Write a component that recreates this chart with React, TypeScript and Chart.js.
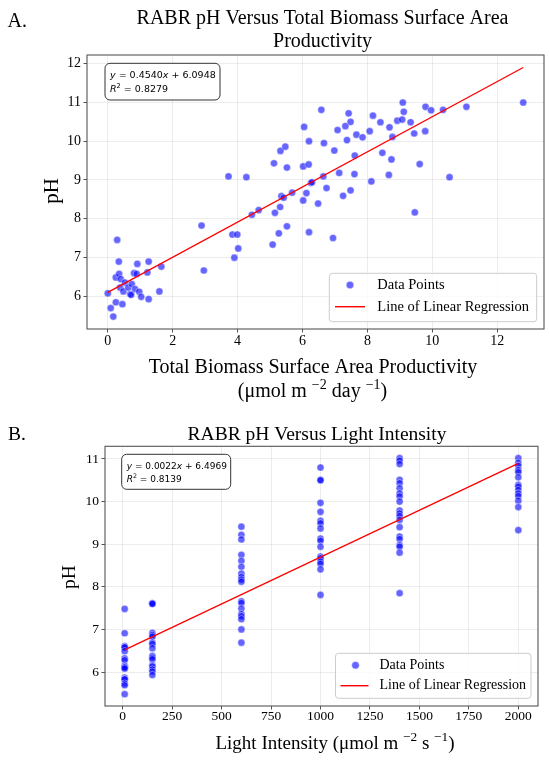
import React, { useEffect, useRef } from "react";
import { Chart, registerables } from "chart.js";

Chart.register(...registerables);

// ---------------- Panel A data: pH vs total biomass surface area productivity ----------------
const PRODUCTIVITY = [
  0, 0.09, 0.17, 0.25, 0.29, 0.25, 0.34, 0.35, 0.4, 0.45, 0.38, 0.48, 0.53, 0.63, 0.69, 0.72, 0.74,
  0.81, 0.84, 0.91, 0.89, 0.97, 1.03, 1.22, 1.26, 1.26, 1.59, 1.65, 2.89, 2.96, 3.72, 3.84, 3.9,
  3.99, 4.02, 4.27, 4.44, 4.65, 5.08, 5.12, 5.15, 5.27, 5.31, 5.32, 5.35, 5.42, 5.47, 5.52, 5.52,
  5.68, 6.05, 6.02, 6.19, 6.2, 6.12, 6.02, 6.2, 6.26, 6.29, 6.48, 6.58, 6.64, 6.66, 6.74, 6.94,
  6.98, 7.08, 7.13, 7.25, 7.32, 7.37, 7.42, 7.48, 7.48, 7.6, 7.61, 7.66, 7.85, 8.07, 8.12, 8.17,
  8.4, 8.46, 8.66, 8.68, 8.74, 8.77, 8.92, 9.07, 9.09, 9.12, 9.33, 9.44, 9.46, 9.61, 9.78, 9.79,
  9.96, 10.33, 10.53, 11.05, 12.8,
];
const PH_A = [
  6.07, 5.69, 5.47, 5.84, 7.45, 6.48, 6.89, 6.57, 6.44, 5.79, 6.22, 6.12, 6.35, 6.22, 6.05, 6.03, 6.31,
  6.59, 6.18, 6.83, 6.57, 6.11, 5.98, 6.61, 6.89, 5.92, 6.12, 6.76, 7.82, 6.66, 9.09, 7.59, 6.99,
  7.59, 7.23, 9.07, 8.1, 8.22, 7.33, 9.43, 8.15, 7.62, 8.3, 9.75, 8.58, 8.54, 9.86, 9.32, 7.8,
  8.67, 10.37, 9.35, 9.4, 10.0, 8.66, 8.47, 7.65, 8.92, 8.94, 8.39, 10.81, 9.09, 9.95, 8.79, 7.5,
  9.76, 10.29, 9.18, 8.59, 10.39, 10.03, 10.72, 10.5, 8.73, 9.15, 9.63, 10.17, 10.1, 10.26, 8.96, 10.66,
  10.49, 9.7, 9.13, 10.36, 9.53, 10.11, 10.53, 10.56, 11.0, 10.76, 10.49, 10.2, 8.16, 9.41, 10.26, 10.89,
  10.8, 10.81, 9.07, 10.89, 11.0,
];
const X_TICKS_A = [0, 2, 4, 6, 8, 10, 12];
const Y_TICKS_A = [6, 7, 8, 9, 10, 11, 12];
const SLOPE_A = 0.454;
const INTERCEPT_A = 6.0948;
const R2_A = 0.8279;

// ---------------- Panel B data: pH vs light intensity ----------------
const LIGHT_LEVELS = [10, 150, 600, 1000, 1400, 2000];
const PH_LIGHT_10 = [7.48, 6.91, 6.61, 6.58, 6.58, 6.49, 6.32, 6.28, 6.15, 6.11, 6.11, 6.08, 5.87, 5.83, 5.83, 5.73, 5.69, 5.48];
const PH_LIGHT_150 = [7.61, 7.61, 7.6, 6.92, 6.87, 6.83, 6.69, 6.66, 6.56, 6.38, 6.34, 6.3, 6.16, 6.13, 6.06, 6.01, 5.93];
const PH_LIGHT_600 = [9.41, 9.22, 9.11, 8.75, 8.61, 8.47, 8.31, 8.23, 8.17, 8.12, 7.66, 7.62, 7.49, 7.36, 7.31, 7.24, 7.0, 6.69];
const PH_LIGHT_1000 = [10.8, 10.51, 10.5, 9.97, 9.76, 9.55, 9.49, 9.37, 9.13, 9.08, 8.94, 8.71, 8.67, 8.59, 8.54, 8.41, 7.81];
const PH_LIGHT_1400 = [11.02, 10.96, 10.88, 10.51, 10.43, 10.31, 10.19, 10.12, 10.0, 9.79, 9.72, 9.66, 9.57, 9.4, 9.18, 9.12, 8.98, 8.94, 8.8, 7.85];
const PH_LIGHT_2000 = [11.02, 10.91, 10.84, 10.74, 10.69, 10.57, 10.39, 10.35, 10.27, 10.19, 10.13, 10.02, 9.87, 9.33];
const PH_BY_LIGHT = [PH_LIGHT_10, PH_LIGHT_150, PH_LIGHT_600, PH_LIGHT_1000, PH_LIGHT_1400, PH_LIGHT_2000];
const X_TICKS_B = [0, 250, 500, 750, 1000, 1250, 1500, 1750, 2000];
const Y_TICKS_B = [6, 7, 8, 9, 10, 11];
const SLOPE_B = 0.0022;
const INTERCEPT_B = 6.4969;
const R2_B = 0.8139;

// ---------------- styling ----------------
const SERIF = '"Liberation Serif", "Times New Roman", serif';
const SANS = '"DejaVu Sans", sans-serif';
const POINT_FILL = "rgba(0,0,255,0.6)";
const POINT_EDGE = "rgba(255,255,255,0.7)";
const AXIS = "#555555";
const GRID = "rgba(176,176,176,0.3)";

type Seg = { t: string; sup?: boolean; it?: boolean };
type TextSpec = { segs: Seg[]; x: number; y: number; size: number; align: "left" | "center"; rot?: boolean };

function drawSegs(ctx: CanvasRenderingContext2D, segs: Seg[], x: number, y: number, size: number, family: string, align: string) {
  const fontFor = (s: Seg) => `${s.it ? "italic " : ""}${s.sup ? size * 0.7 : size}px ${family}`;
  let w = 0;
  for (const s of segs) {
    ctx.font = fontFor(s);
    w += ctx.measureText(s.t).width;
  }
  let cx = align === "center" ? x - w / 2 : x;
  ctx.textAlign = "left";
  for (const s of segs) {
    ctx.font = fontFor(s);
    ctx.fillText(s.t, cx, s.sup ? y - size * 0.4 : y);
    cx += ctx.measureText(s.t).width;
  }
}

function rrect(ctx: CanvasRenderingContext2D, x: number, y: number, w: number, h: number, r: number) {
  ctx.beginPath();
  ctx.moveTo(x + r, y);
  ctx.lineTo(x + w - r, y);
  ctx.arcTo(x + w, y, x + w, y + r, r);
  ctx.lineTo(x + w, y + h - r);
  ctx.arcTo(x + w, y + h, x + w - r, y + h, r);
  ctx.lineTo(x + r, y + h);
  ctx.arcTo(x, y + h, x, y + h - r, r);
  ctx.lineTo(x, y + r);
  ctx.arcTo(x, y, x + r, y, r);
  ctx.closePath();
}

function paddedRange(values: number[]) {
  const lo = Math.min(...values);
  const hi = Math.max(...values);
  const m = (hi - lo) * 0.05;
  return [lo - m, hi + m];
}

function buildConfig(p: any) {
  const pts = p.xs.map((x: number, i: number) => ({ x, y: p.ys[i] }));
  const x0 = Math.min(...p.xs);
  const x1 = Math.max(...p.xs);
  const linePts = [
    { x: x0, y: p.slope * x0 + p.intercept },
    { x: x1, y: p.slope * x1 + p.intercept },
  ];
  const [xmin, xmax] = paddedRange(p.xs);
  const [ymin, ymax] = paddedRange([...p.ys, linePts[0].y, linePts[1].y]);

  const decor = {
    id: "decor",
    afterDraw(chart: any) {
      const ctx: CanvasRenderingContext2D = chart.ctx;
      const a = chart.chartArea;
      ctx.save();
      // frame (all four spines)
      ctx.strokeStyle = AXIS;
      ctx.lineWidth = 1.1;
      ctx.strokeRect(a.left, a.top, a.right - a.left, a.bottom - a.top);

      // equation box
      const b = p.box;
      const bx = a.left + b.dx;
      const by = a.top + b.dy;
      rrect(ctx, bx, by, b.w, b.h, 5);
      ctx.fillStyle = "#ffffff";
      ctx.fill();
      ctx.strokeStyle = "#333333";
      ctx.lineWidth = 1;
      ctx.stroke();
      ctx.fillStyle = "#000000";
      ctx.textBaseline = "alphabetic";
      const eq: Seg[] = [
        { t: "y", it: true },
        { t: " = " + p.slope.toFixed(4) },
        { t: "x", it: true },
        { t: " + " + p.intercept.toFixed(4) },
      ];
      const r2: Seg[] = [{ t: "R", it: true }, { t: "2", sup: true }, { t: " = " + p.r2.toFixed(4) }];
      drawSegs(ctx, eq, bx + b.tx, by + b.ty1, b.font, SANS, "left");
      drawSegs(ctx, r2, bx + b.tx, by + b.ty2, b.font, SANS, "left");

      // legend
      const L = p.leg;
      const lx = a.right - L.dr - L.w;
      const ly = a.bottom - L.db - L.h;
      rrect(ctx, lx, ly, L.w, L.h, 3);
      ctx.fillStyle = "rgba(255,255,255,0.8)";
      ctx.fill();
      ctx.strokeStyle = "#cccccc";
      ctx.lineWidth = 1;
      ctx.stroke();
      ctx.beginPath();
      ctx.arc(lx + L.mx, ly + L.my, 3.8, 0, Math.PI * 2);
      ctx.fillStyle = POINT_FILL;
      ctx.fill();
      ctx.strokeStyle = POINT_EDGE;
      ctx.lineWidth = 0.6;
      ctx.stroke();
      ctx.beginPath();
      ctx.moveTo(lx + L.l0, ly + L.ly);
      ctx.lineTo(lx + L.l1, ly + L.ly);
      ctx.strokeStyle = "#ff0000";
      ctx.lineWidth = 1.4;
      ctx.stroke();
      ctx.fillStyle = "#000000";
      ctx.font = `${L.font}px ${SERIF}`;
      ctx.textAlign = "left";
      ctx.textBaseline = "middle";
      ctx.fillText("Data Points", lx + L.tx, ly + L.my);
      ctx.fillText("Line of Linear Regression", lx + L.tx, ly + L.ly);

      // titles and axis labels
      ctx.textBaseline = "alphabetic";
      ctx.fillStyle = "#000000";
      for (const t of p.texts as TextSpec[]) {
        if (t.rot) {
          ctx.save();
          ctx.translate(t.x, t.y);
          ctx.rotate(-Math.PI / 2);
          drawSegs(ctx, t.segs, 0, 0, t.size, SERIF, "center");
          ctx.restore();
        } else {
          drawSegs(ctx, t.segs, t.x, t.y, t.size, SERIF, t.align);
        }
      }
      ctx.restore();
    },
  };

  const axisCommon = (ticks: number[], size: number, pad: number) => ({
    type: "linear",
    afterBuildTicks: (s: any) => {
      s.ticks = ticks.map((v) => ({ value: v }));
    },
    border: { display: false },
    grid: { color: GRID, lineWidth: 0.8, tickColor: AXIS, tickLength: 3.5, tickWidth: 1, drawTicks: true },
    ticks: {
      font: { family: SERIF, size },
      color: "#000000",
      padding: pad,
      autoSkip: false,
      maxRotation: 0,
      callback: (v: any) => String(v),
    },
  });

  return {
    type: "scatter",
    data: {
      datasets: [
        {
          data: linePts,
          showLine: true,
          borderColor: "#ff0000",
          borderWidth: 1.3,
          pointRadius: 0,
          fill: false,
        },
        {
          data: pts,
          pointRadius: 3.6,
          pointBackgroundColor: POINT_FILL,
          pointBorderColor: POINT_EDGE,
          pointBorderWidth: 0.6,
          showLine: false,
        },
      ],
    },
    options: {
      animation: false,
      responsive: false,
      events: [],
      layout: { padding: { top: p.padTop, right: p.padRight, left: 0, bottom: 0 } },
      plugins: { legend: { display: false }, tooltip: { enabled: false }, title: { display: false } },
      scales: {
        x: {
          ...axisCommon(p.xTicks, p.tickSize, p.xPad),
          min: xmin,
          max: xmax,
          afterFit: (s: any) => {
            s.height = p.xAxisH;
          },
        },
        y: {
          ...axisCommon(p.yTicks, p.tickSize, 2.5),
          min: ymin,
          max: ymax,
          afterFit: (s: any) => {
            s.width = p.yAxisW;
          },
        },
      },
    },
    plugins: [decor],
  };
}

const LIGHT_X = PH_BY_LIGHT.flatMap((arr, i) => arr.map(() => LIGHT_LEVELS[i]));
const LIGHT_PH = PH_BY_LIGHT.flatMap((arr) => arr);

const PANEL_A = {
  xs: PRODUCTIVITY,
  ys: PH_A,
  slope: SLOPE_A,
  intercept: INTERCEPT_A,
  r2: R2_A,
  xTicks: X_TICKS_A,
  yTicks: Y_TICKS_A,
  tickSize: 14,
  xPad: 0,
  padTop: 55,
  padRight: 6,
  xAxisH: 76,
  yAxisW: 87,
  box: { dx: 18, dy: 8.3, w: 115, h: 36.7, tx: 5, ty1: 14.2, ty2: 28.2, font: 9.5 },
  leg: { dr: 7.3, db: 7.3, w: 207.4, h: 48.4, mx: 20.7, my: 11.7, l0: 5.7, l1: 35.7, ly: 33.4, tx: 48, font: 14.5 },
  texts: [
    { segs: [{ t: "A." }], x: 7.5, y: 27, size: 20, align: "left" },
    { segs: [{ t: "RABR pH Versus Total Biomass Surface Area" }], x: 322.5, y: 23.5, size: 20, align: "center" },
    { segs: [{ t: "Productivity" }], x: 322.5, y: 46.5, size: 20, align: "center" },
    { segs: [{ t: "Total Biomass Surface Area Productivity" }], x: 313, y: 373, size: 20, align: "center" },
    {
      segs: [{ t: "(μmol m " }, { t: "−2", sup: true }, { t: " day " }, { t: "−1", sup: true }, { t: ")" }],
      x: 312.5,
      y: 397,
      size: 20,
      align: "center",
    },
    { segs: [{ t: "pH" }], x: 57.5, y: 191, size: 21, align: "center", rot: true },
  ],
};

const PANEL_B = {
  xs: LIGHT_X,
  ys: LIGHT_PH,
  slope: SLOPE_B,
  intercept: INTERCEPT_B,
  r2: R2_B,
  xTicks: X_TICKS_B,
  yTicks: Y_TICKS_B,
  tickSize: 13.5,
  xPad: -1,
  padTop: 41.3,
  padRight: 12,
  xAxisH: 54,
  yAxisW: 105,
  box: { dx: 16.7, dy: 8, w: 109, h: 35, tx: 5, ty1: 14.7, ty2: 27.7, font: 9 },
  leg: { dr: 7, db: 7.7, w: 195.5, h: 45, mx: 20, my: 12, l0: 5, l1: 33, ly: 32.4, tx: 44, font: 14 },
  texts: [
    { segs: [{ t: "B." }], x: 8, y: 34.5, size: 19.5, align: "left" },
    { segs: [{ t: "RABR pH Versus Light Intensity" }], x: 317, y: 34.5, size: 19.5, align: "center" },
    {
      segs: [{ t: "Light Intensity (μmol m " }, { t: "−2", sup: true }, { t: " s " }, { t: "−1", sup: true }, { t: ")" }],
      x: 335,
      y: 344,
      size: 19,
      align: "center",
    },
    { segs: [{ t: "pH" }], x: 74.5, y: 172, size: 19.5, align: "center", rot: true },
  ],
};

export default function App() {
  const refA = useRef<HTMLCanvasElement>(null);
  const refB = useRef<HTMLCanvasElement>(null);

  useEffect(() => {
    const ca = new Chart(refA.current as HTMLCanvasElement, buildConfig(PANEL_A) as any);
    const cb = new Chart(refB.current as HTMLCanvasElement, buildConfig(PANEL_B) as any);
    return () => {
      ca.destroy();
      cb.destroy();
    };
  }, []);

  return (
    <div style={{ position: "absolute", left: 0, top: 0, width: 550, height: 760, background: "#ffffff" }}>
      <canvas
        ref={refA}
        width={550}
        height={405}
        style={{ position: "absolute", left: 0, top: 0, width: 550, height: 405 }}
      />
      <canvas
        ref={refB}
        width={550}
        height={355}
        style={{ position: "absolute", left: 0, top: 405, width: 550, height: 355 }}
      />
    </div>
  );
}
